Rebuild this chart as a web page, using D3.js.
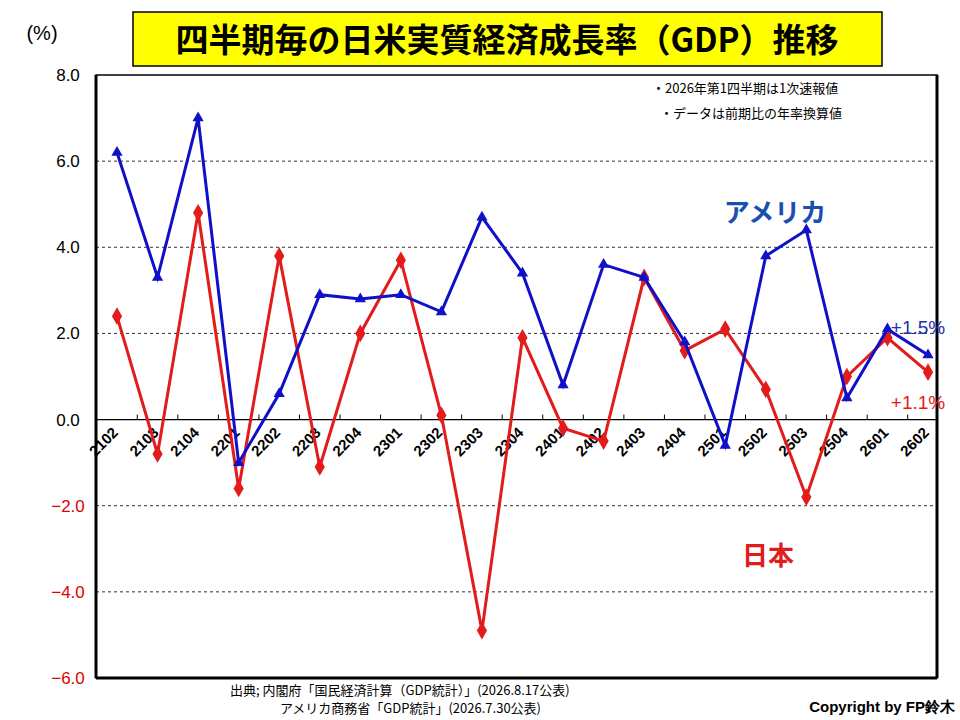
<!DOCTYPE html>
<html><head><meta charset="utf-8">
<script src="https://cdn.jsdelivr.net/npm/d3@7"></script>
<style>body{margin:0;background:#fff}</style>
</head><body>
<div id="chart"></div>
<script>
var quarters = ["2102","2103","2104","2201","2202","2203","2204","2301","2302","2303","2304",
  "2401","2402","2403","2404","2501","2502","2503","2504","2601","2602"];
var usa = [6.2,3.3,7.0,-1.0,0.6,2.9,2.8,2.9,2.5,4.7,3.4,0.8,3.6,3.3,1.8,-0.6,3.8,4.4,0.5,2.1,1.5];
var japan = [2.4,-0.8,4.8,-1.6,3.8,-1.1,2.0,3.7,0.1,-4.9,1.9,-0.2,-0.5,3.3,1.6,2.1,0.7,-1.8,1.0,1.9,1.1];
var yTicks = [-6,-4,-2,0,2,4,6,8];

var w = 960, h = 720;
var pLeft = 96, pRight = 937, pTop = 75, pBottom = 678;
var font = "'Liberation Sans', Arial, sans-serif";
var jfont = "'Noto Sans CJK JP', sans-serif";

var svg = d3.select("#chart").append("svg").attr("width", w).attr("height", h);

var x = d3.scalePoint().domain(quarters).range([117, 928]);
var step = x.step();
var y = d3.scaleLinear().domain([-6, 8]).range([pBottom, pTop]);

// grid
svg.selectAll("line.grid").data(yTicks.filter(function(d){ return d != 0 && d != 8 && d != -6; }))
  .enter().append("line")
  .attr("x1", pLeft).attr("x2", pRight)
  .attr("y1", function(d){ return y(d); }).attr("y2", function(d){ return y(d); })
  .style("stroke", "#333").style("stroke-dasharray", "3,3").style("stroke-width", 1);

// zero line with ticks
svg.append("line").attr("x1", pLeft).attr("x2", pRight).attr("y1", y(0)).attr("y2", y(0))
  .style("stroke", "#000").style("stroke-width", 1.2);
svg.selectAll("line.xt").data(quarters.slice(1)).enter().append("line")
  .attr("x1", function(d){ return x(d) - step/2; }).attr("x2", function(d){ return x(d) - step/2; })
  .attr("y1", y(0) - 5).attr("y2", y(0))
  .style("stroke", "#000");

// frame
svg.append("rect").attr("x", pLeft).attr("y", pTop).attr("width", pRight - pLeft).attr("height", pBottom - pTop)
  .style("fill", "none").style("stroke", "#000").style("stroke-width", 1.5);
svg.append("line").attr("x1", pLeft).attr("x2", pLeft).attr("y1", pTop).attr("y2", pBottom).style("stroke", "#000").style("stroke-width", 3);
svg.append("line").attr("x1", pRight).attr("x2", pRight).attr("y1", pTop).attr("y2", pBottom).style("stroke", "#000").style("stroke-width", 3);
svg.append("line").attr("x1", pLeft).attr("x2", pRight).attr("y1", pBottom).attr("y2", pBottom).style("stroke", "#000").style("stroke-width", 3);

// y labels
svg.selectAll("text.yl").data(yTicks).enter().append("text")
  .attr("x", pLeft - 28).attr("y", function(d){ return y(d) + 6; })
  .attr("text-anchor", "middle")
  .style("font-family", font).style("font-size", "17px")
  .style("fill", function(d){ return d < 0 ? "#e00000" : "#000"; })
  .text(function(d){ return d < 0 ? "\u2212" + (-d).toFixed(1) : d.toFixed(1); });
svg.append("text").attr("x", 42).attr("y", 40).attr("text-anchor", "middle")
  .style("font-family", font).style("font-size", "20px").text("(%)");

// x labels
svg.selectAll("text.xl").data(quarters).enter().append("text")
  .attr("transform", function(d){ return "translate(" + (x(d) + 2) + "," + (y(0) + 14) + ") rotate(-45)"; })
  .attr("text-anchor", "end")
  .style("font-family", font).style("font-size", "15px").style("font-weight", "bold")
  .text(function(d){ return d; });

function cx(d, i){ return x(quarters[i]); }
var line = d3.line().x(cx).y(function(d){ return y(d); });

svg.append("path").datum(japan).attr("d", line)
  .style("fill", "none").style("stroke", "#e21b1b").style("stroke-width", 3);
svg.selectAll("path.jp").data(japan).enter().append("path")
  .attr("d", d3.symbol().type(d3.symbolDiamond).size(90))
  .attr("transform", function(d, i){ return "translate(" + cx(d, i) + "," + y(d) + ")"; })
  .style("fill", "#e21b1b");

svg.append("path").datum(usa).attr("d", line)
  .style("fill", "none").style("stroke", "#1010c8").style("stroke-width", 3);
svg.selectAll("path.us").data(usa).enter().append("path")
  .attr("d", d3.symbol().type(d3.symbolTriangle).size(55))
  .attr("transform", function(d, i){ return "translate(" + cx(d, i) + "," + y(d) + ")"; })
  .style("fill", "#1010c8");

// title
svg.append("rect").attr("x", 133).attr("y", 12).attr("width", 749).attr("height", 54)
  .style("fill", "#ffff00").style("stroke", "#000").style("stroke-width", 1.5);
svg.append("text").attr("x", 507).attr("y", 52).attr("text-anchor", "middle")
  .style("font-family", jfont).style("font-size", "33px").style("font-weight", "bold")
  .text("四半期毎の日米実質経済成長率（GDP）推移");

// notes
svg.append("text").attr("x", 652).attr("y", 93).style("font-family", jfont).style("font-size", "13px")
  .text("・2026年第1四半期は1次速報値");
svg.append("text").attr("x", 660).attr("y", 118).style("font-family", jfont).style("font-size", "13px")
  .text("・データは前期比の年率換算値");

svg.append("text").attr("x", 775).attr("y", 222).attr("text-anchor", "middle")
  .style("font-family", jfont).style("font-size", "26px").style("font-weight", "bold").style("fill", "#1a4fb0")
  .text("アメリカ");
svg.append("text").attr("x", 768).attr("y", 565).attr("text-anchor", "middle")
  .style("font-family", jfont).style("font-size", "26px").style("font-weight", "bold").style("fill", "#e21b1b")
  .text("日本");
svg.append("text").attr("x", 918).attr("y", 334).attr("text-anchor", "middle")
  .style("font-family", font).style("font-size", "19px").style("fill", "#2030b0").text("+1.5%");
svg.append("text").attr("x", 918).attr("y", 409).attr("text-anchor", "middle")
  .style("font-family", font).style("font-size", "19px").style("fill", "#e21b1b").text("+1.1%");

// footer
svg.append("text").attr("x", 230).attr("y", 695).style("font-family", jfont).style("font-size", "13px")
  .style("font-stretch", "condensed")
  .text("出典; 内閣府「国民経済計算（GDP統計）」(2026.8.17公表)");
svg.append("text").attr("x", 280).attr("y", 713).style("font-family", jfont).style("font-size", "13px")
  .text("アメリカ商務省「GDP統計」(2026.7.30公表)");
svg.append("text").attr("x", 955).attr("y", 712).attr("text-anchor", "end")
  .style("font-family", font).style("font-size", "15px").style("font-weight", "bold")
  .text("Copyright by FP鈴木");
</script>
</body></html>
